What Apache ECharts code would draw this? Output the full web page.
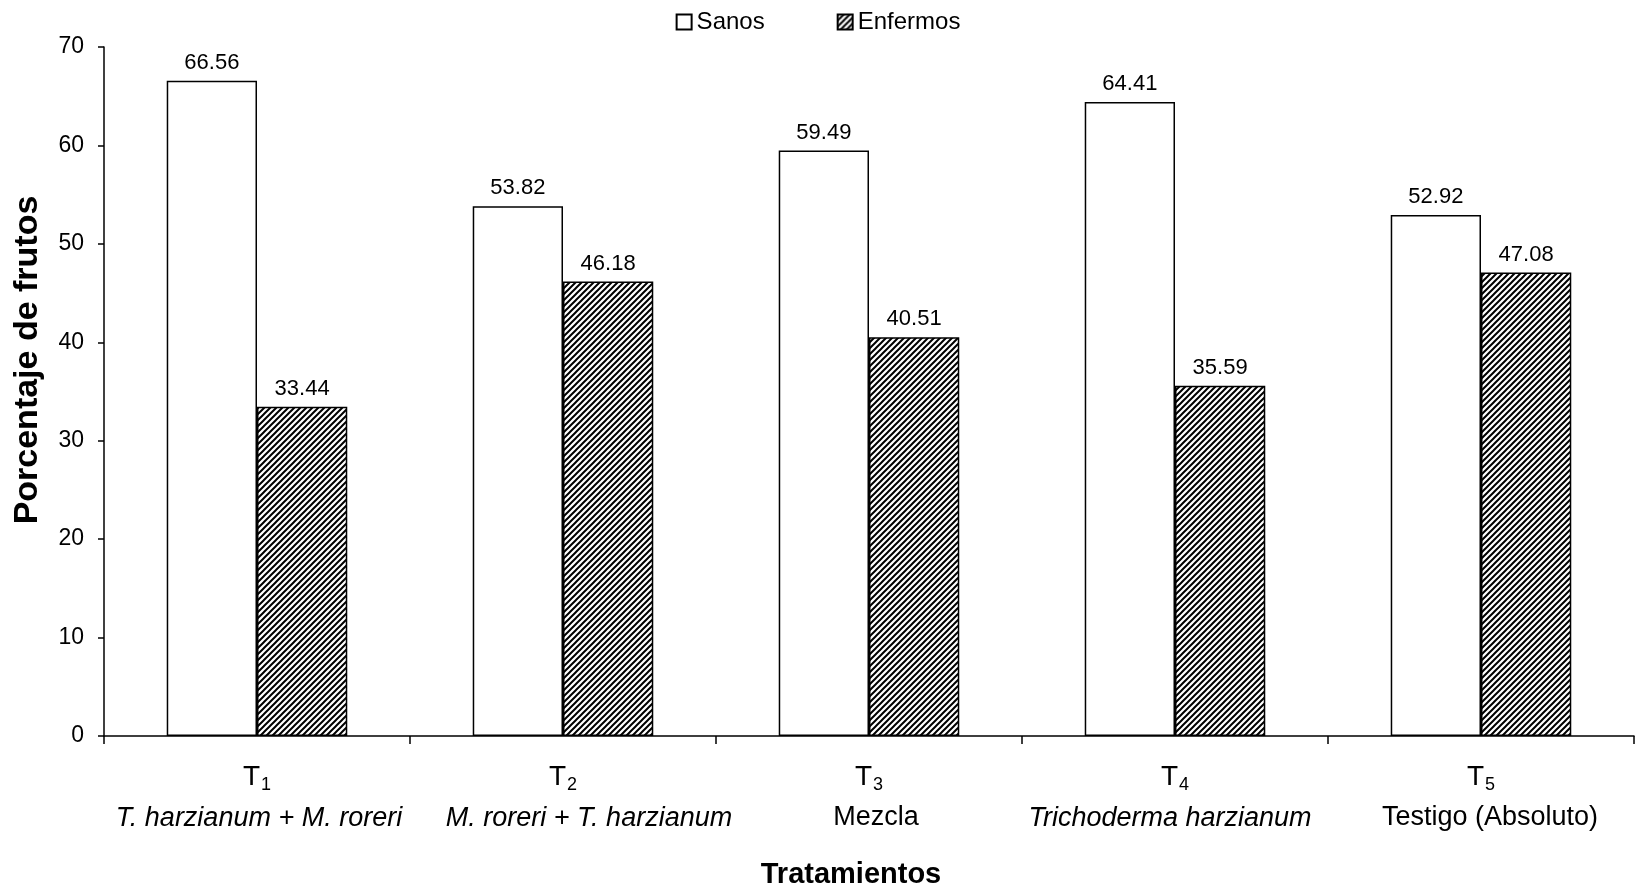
<!DOCTYPE html>
<html>
<head>
<meta charset="utf-8">
<script src="https://cdn.jsdelivr.net/npm/echarts@6/dist/echarts.min.js"></script>
<style>
html,body{margin:0;padding:0;background:#fff;}
#chart{width:1636px;height:888px;}
</style>
</head>
<body>
<div id="chart"></div>
<script>
const codes = ['1','2','3','4','5'];
const names = ['T. harzianum + M. roreri','M. roreri + T. harzianum','Mezcla','Trichoderma harzianum','Testigo (Absoluto)'];
const italicName = [true, true, false, true, false];
const sanos = [66.56, 53.82, 59.49, 64.41, 52.92];
const enfermos = [33.44, 46.18, 40.51, 35.59, 47.08];
const yTicks = [0, 10, 20, 30, 40, 50, 60, 70];
const yTitle = 'Porcentaje de frutos';
const xTitle = 'Tratamientos';
// layout only: horizontal nudge (px) of each treatment-name line, as placed in the original figure
const nameShift = [2, 26, 7, -5, 9];

function hatch() {
  const c = document.createElement('canvas');
  const s = 6;
  c.width = s; c.height = s;
  const g = c.getContext('2d');
  g.fillStyle = '#fff';
  g.fillRect(0, 0, s, s);
  g.strokeStyle = '#000';
  g.lineWidth = 2;
  g.beginPath();
  g.moveTo(-1, s + 1); g.lineTo(s + 1, -1);
  g.moveTo(-2, 2); g.lineTo(2, -2);
  g.moveTo(s - 2, s + 2); g.lineTo(s + 2, s - 2);
  g.stroke();
  return c;
}
const hatchFill = { image: hatch(), repeat: 'repeat' };

const cats = codes.map((c, i) => 'T' + c + '|' + names[i]);
const font = '"Liberation Sans", Arial, sans-serif';

const rich = {
  t: { fontSize: 28, fontFamily: font, color: '#000', lineHeight: 40 },
  sub: { fontSize: 18, fontFamily: font, color: '#000', lineHeight: 40, padding: [16, 0, 0, 1] }
};
names.forEach((n, i) => {
  const d = nameShift[i];
  rich['n' + i] = {
    fontSize: 27,
    fontStyle: italicName[i] ? 'italic' : 'normal',
    fontFamily: font,
    color: '#000',
    lineHeight: 42,
    padding: d >= 0 ? [0, 0, 0, 2 * d] : [0, -2 * d, 0, 0]
  };
});

const chart = echarts.init(document.getElementById('chart'));
chart.setOption({
  animation: false,
  backgroundColor: '#fff',
  textStyle: { fontFamily: font, color: '#000' },
  legend: {
    top: 5,
    left: 'center',
    itemWidth: 15,
    itemHeight: 15,
    itemGap: 72,
    icon: 'rect',
    textStyle: { fontSize: 24, color: '#000', fontFamily: font },
    data: ['Sanos', 'Enfermos']
  },
  graphic: [{
    type: 'text',
    x: 28,
    y: 360,
    rotation: Math.PI / 2,
    style: {
      text: yTitle,
      align: 'center',
      verticalAlign: 'middle',
      font: 'bold 34px "Liberation Sans", Arial, sans-serif',
      fill: '#000'
    }
  }],
  grid: { left: 104, right: 2, top: 47, bottom: 152, outerBoundsMode: 'none', containLabel: false },
  xAxis: {
    type: 'category',
    data: cats,
    axisLine: { lineStyle: { color: '#000', width: 1.5 } },
    axisTick: { show: true, length: 8, lineStyle: { color: '#000', width: 1.5 } },
    axisLabel: {
      margin: 21,
      interval: 0,
      formatter: function (v, idx) {
        return '{t|T}{sub|' + codes[idx] + '}\n{n' + idx + '|' + names[idx] + '}';
      },
      rich: rich
    },
    name: xTitle,
    nameLocation: 'middle',
    nameGap: 124,
    nameTextStyle: { fontSize: 29, fontWeight: 'bold', color: '#000', fontFamily: font, padding: [0, 36, 0, 0] }
  },
  yAxis: {
    type: 'value',
    min: 0, max: 70, interval: 10,
    axisLine: { show: true, lineStyle: { color: '#000', width: 1.5 } },
    axisTick: { show: true, length: 6, lineStyle: { color: '#000', width: 1.5 } },
    splitLine: { show: false },
    axisLabel: {
      fontSize: 23, color: '#000', margin: 20, fontFamily: font,
      formatter: v => yTicks.includes(v) ? String(v) : ''
    }
  },
  series: [
    {
      name: 'Sanos',
      type: 'bar',
      data: sanos,
      barWidth: '29.5%',
      barGap: '0%',
      itemStyle: { color: '#fff', borderColor: '#000', borderWidth: 1.5 },
      label: { show: true, position: 'top', distance: 7, fontSize: 22, color: '#000', fontFamily: font, formatter: p => p.value.toFixed(2) }
    },
    {
      name: 'Enfermos',
      type: 'bar',
      data: enfermos,
      barWidth: '29.5%',
      barGap: '0%',
      itemStyle: { color: hatchFill, borderColor: '#000', borderWidth: 1.5 },
      label: { show: true, position: 'top', distance: 7, fontSize: 22, color: '#000', fontFamily: font, formatter: p => p.value.toFixed(2) }
    }
  ]
});
</script>
</body>
</html>
